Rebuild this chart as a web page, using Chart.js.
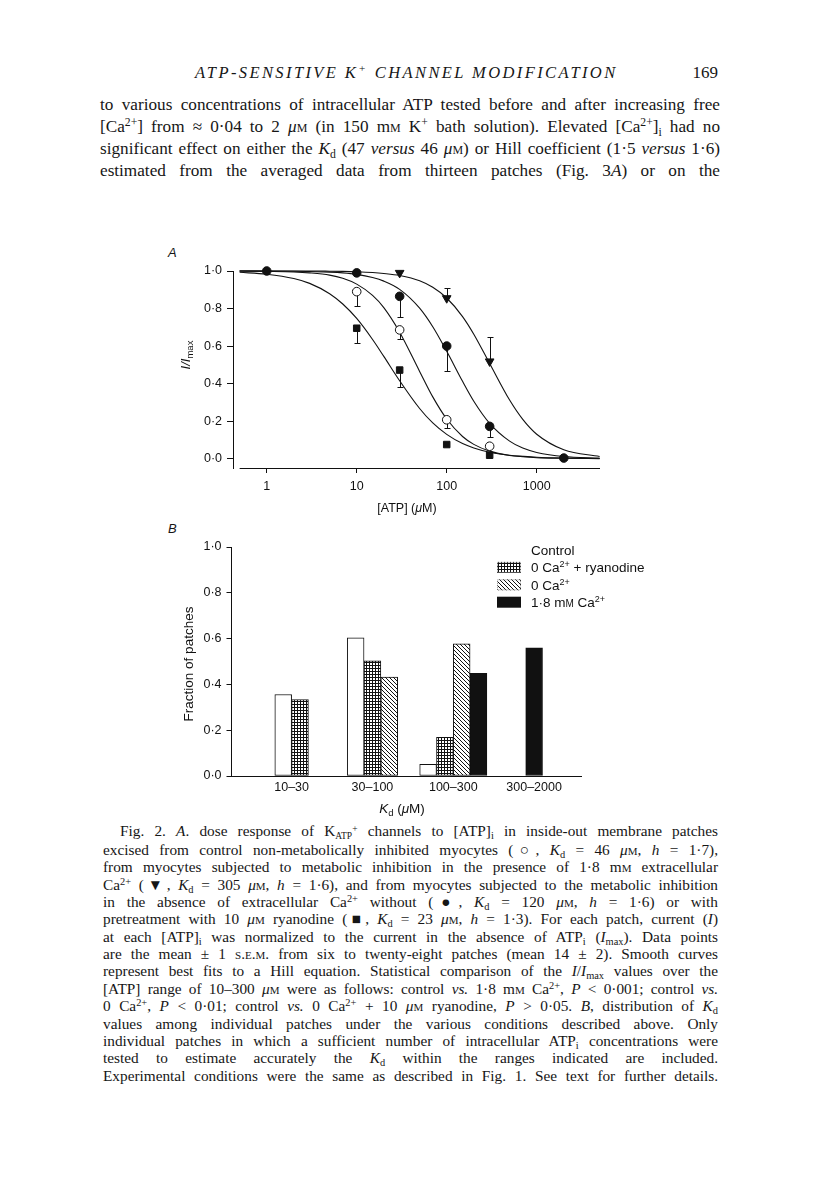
<!DOCTYPE html>
<html>
<head>
<meta charset="utf-8">
<script src="https://cdn.jsdelivr.net/npm/chart.js@4.4.0/dist/chart.umd.min.js"></script>
<style>
  html, body { margin: 0; padding: 0; background: #fff; }
  #page { position: relative; width: 816px; height: 1204px; overflow: hidden; color: #161616; }
  .serif { font-family: "Liberation Serif", "DejaVu Serif", serif; }
  .runhead { position: absolute; top: 63px; left: 195px; font-style: italic; font-size: 16.5px; letter-spacing: 2.4px; }
  .folio { position: absolute; top: 63px; left: 660px; width: 58px; text-align: right; font-size: 17px; }
  .body { position: absolute; top: 94px; left: 100px; width: 620px; font-size: 17.2px; line-height: 22px; }
  .caption { position: absolute; top: 822px; left: 103px; width: 615px; font-size: 15.3px; line-height: 17.36px; }
  .body div, .caption div { text-align: justify; text-align-last: justify; }
  .caption .first { text-indent: 17px; }
  sup { font-size: 0.68em; vertical-align: 0.5em; line-height: 0; }
  sub { font-size: 0.68em; vertical-align: -0.3em; line-height: 0; }
  .sc { font-variant: small-caps; }
  .stk { display: inline-block; font-size: 0.62em; line-height: 0.8em; vertical-align: -0.35em; text-align: left; text-align-last: left; }
  .panel { position: absolute; font-family: "Liberation Sans", Arial, sans-serif; font-style: italic; font-size: 13px; }
  canvas { position: absolute; }
</style>
</head>
<body>
<div id="page" class="serif">
  <div class="runhead">ATP-SENSITIVE K<sup>+</sup> CHANNEL MODIFICATION</div>
  <div class="folio">169</div>
  <div class="body">
    <div>to various concentrations of intracellular ATP tested before and after increasing free</div>
    <div>[Ca<sup>2+</sup>] from ≈ 0·04 to 2 <i>μ</i><span class="sc">m</span> (in 150 m<span class="sc">m</span> K<sup>+</sup> bath solution). Elevated [Ca<sup>2+</sup>]<sub>i</sub> had no</div>
    <div>significant effect on either the <i>K</i><sub>d</sub> (47 <i>versus</i> 46 <i>μ</i><span class="sc">m</span>) or Hill coefficient (1·5 <i>versus</i> 1·6)</div>
    <div>estimated from the averaged data from thirteen patches (Fig. 3<i>A</i>) or on the</div>
  </div>

  <div class="panel" style="left:168px; top:245px;">A</div>
  <div class="panel" style="left:168px; top:521px;">B</div>
  <canvas id="chartA" width="470" height="270" style="left:150px; top:255px;"></canvas>
  <canvas id="chartB" width="530" height="290" style="left:150px; top:530px;"></canvas>

  <div class="caption">
    <div class="first">Fig. 2. <i>A</i>. dose response of K<span class="stk">+<br>ATP</span> channels to [ATP]<sub>i</sub> in inside-out membrane patches</div>
    <div>excised from control non-metabolically inhibited myocytes (○, <i>K</i><sub>d</sub> = 46 <i>μ</i><span class="sc">m</span>, <i>h</i> = 1·7),</div>
    <div>from myocytes subjected to metabolic inhibition in the presence of 1·8 m<span class="sc">m</span> extracellular</div>
    <div>Ca<sup>2+</sup> (▼, <i>K</i><sub>d</sub> = 305 <i>μ</i><span class="sc">m</span>, <i>h</i> = 1·6), and from myocytes subjected to the metabolic inhibition</div>
    <div>in the absence of extracellular Ca<sup>2+</sup> without (●, <i>K</i><sub>d</sub> = 120 <i>μ</i><span class="sc">m</span>, <i>h</i> = 1·6) or with</div>
    <div>pretreatment with 10 <i>μ</i><span class="sc">m</span> ryanodine (■, <i>K</i><sub>d</sub> = 23 <i>μ</i><span class="sc">m</span>, <i>h</i> = 1·3). For each patch, current (<i>I</i>)</div>
    <div>at each [ATP]<sub>i</sub> was normalized to the current in the absence of ATP<sub>i</sub> (<i>I</i><sub>max</sub>). Data points</div>
    <div>are the mean ± 1 <span class="sc">s.e.m.</span> from six to twenty-eight patches (mean 14 ± 2). Smooth curves</div>
    <div>represent best fits to a Hill equation. Statistical comparison of the <i>I</i>/<i>I</i><sub>max</sub> values over the</div>
    <div>[ATP] range of 10–300 <i>μ</i><span class="sc">m</span> were as follows: control <i>vs.</i> 1·8 m<span class="sc">m</span> Ca<sup>2+</sup>, <i>P</i> &lt; 0·001; control <i>vs.</i></div>
    <div>0 Ca<sup>2+</sup>, <i>P</i> &lt; 0·01; control <i>vs.</i> 0 Ca<sup>2+</sup> + 10 <i>μ</i><span class="sc">m</span> ryanodine, <i>P</i> &gt; 0·05. <i>B</i>, distribution of <i>K</i><sub>d</sub></div>
    <div>values among individual patches under the various conditions described above. Only</div>
    <div>individual patches in which a sufficient number of intracellular ATP<sub>i</sub> concentrations were</div>
    <div>tested to estimate accurately the <i>K</i><sub>d</sub> within the ranges indicated are included.</div>
    <div>Experimental conditions were the same as described in Fig. 1. See text for further details.</div>
  </div>
</div>

<script>
// ---------- panel A : dose response ----------
const atpTicks = [1, 10, 100, 1000];
const ratioTicks = [0, 0.2, 0.4, 0.6, 0.8, 1.0];

// smooth fitted curves at these [ATP] values
const curveAtp = [0.5, 1, 2, 3, 5, 7, 10, 15, 20, 30, 50, 70, 100, 150, 200, 300, 500, 700, 1000, 2000, 5000];
const curveControl = [1.0, 0.998, 0.995, 0.99, 0.978, 0.961, 0.93, 0.87, 0.805, 0.674, 0.465, 0.329, 0.211, 0.118, 0.076, 0.04, 0.017, 0.01, 0.005, 0.002, 0.0];
const curveCa = [1.0, 1.0, 1.0, 1.0, 0.999, 0.998, 0.996, 0.992, 0.987, 0.976, 0.948, 0.913, 0.856, 0.757, 0.663, 0.507, 0.312, 0.209, 0.13, 0.047, 0.011];
const curveZeroCa = [1.0, 1.0, 0.999, 0.997, 0.994, 0.99, 0.982, 0.965, 0.946, 0.902, 0.802, 0.703, 0.572, 0.412, 0.306, 0.188, 0.093, 0.056, 0.033, 0.011, 0.003];
const curveRyan = [0.993, 0.983, 0.96, 0.934, 0.879, 0.824, 0.747, 0.635, 0.545, 0.415, 0.267, 0.19, 0.129, 0.08, 0.057, 0.034, 0.018, 0.012, 0.007, 0.003, 0.001];

// data points (mean and one-sided s.e.m.)
const ctrlAtp = [10, 30, 100, 300];
const ctrlMean = [0.89, 0.686, 0.207, 0.066];
const ctrlSem = [0.074, 0.046, 0.044, null];
const caAtp = [30, 100, 300];
const caMean = [0.99, 0.855, 0.518];
const caSem = [null, 0.053, 0.13];
const zeroAtp = [1, 10, 30, 100, 300, 2000];
const zeroMean = [1.0, 0.99, 0.865, 0.6, 0.172, 0.003];
const zeroSem = [null, null, 0.11, 0.132, 0.055, null];
const ryanAtp = [10, 30, 100, 300];
const ryanMean = [0.695, 0.472, 0.075, 0.018];
const ryanSem = [0.08, 0.092, null, null];

// ---------- panel B : Kd distribution ----------
const kdRanges = ['10–30', '30–100', '100–300', '300–2000'];
const fractionTicks = [0, 0.2, 0.4, 0.6, 0.8, 1.0];
const fracControl = [0.356, 0.603, 0.051, null];
const fracRyan = [0.334, 0.503, 0.169, null];
const fracZeroCa = [null, 0.432, 0.577, null];
const fracCa = [null, null, 0.448, 0.56];

const sans = '"Liberation Sans", Arial, sans-serif';
const ink = '#111';
const decimal = v => v.toFixed(1).replace('.', '·');
const pts = (xs, ys) => xs.map((x, i) => ({ x, y: ys[i] }));

// text in pieces: [text, font, dy]
function drawRich(ctx, parts, x, y) {
  let w = 0;
  parts.forEach(p => { ctx.font = p[1]; w += ctx.measureText(p[0]).width; });
  let cx = x - w / 2;
  ctx.textAlign = 'left';
  ctx.textBaseline = 'alphabetic';
  parts.forEach(p => {
    ctx.font = p[1];
    ctx.fillText(p[0], cx, y + (p[2] || 0));
    cx += ctx.measureText(p[0]).width;
  });
}

const errorBars = {
  id: 'errorBars',
  beforeDatasetsDraw(chart) {
    const { ctx, scales: { x, y } } = chart;
    ctx.save();
    ctx.strokeStyle = ink;
    ctx.lineWidth = 1;
    chart.data.datasets.forEach(ds => {
      if (!ds.sem) return;
      ds.data.forEach((p, i) => {
        const s = ds.sem[i];
        if (s == null) return;
        const px = Math.round(x.getPixelForValue(p.x)) + 0.5;
        const y0 = y.getPixelForValue(p.y);
        const y1 = Math.round(y.getPixelForValue(p.y + ds.errDir * s)) + 0.5;
        ctx.beginPath();
        ctx.moveTo(px, y0);
        ctx.lineTo(px, y1);
        ctx.moveTo(px - 3, y1);
        ctx.lineTo(px + 3, y1);
        ctx.stroke();
      });
    });
    ctx.restore();
  }
};

const axisA = {
  id: 'axisA',
  afterDraw(chart) {
    const { ctx, chartArea, scales: { x } } = chart;
    ctx.save();
    ctx.strokeStyle = ink;
    ctx.lineWidth = 1;
    ctx.beginPath();
    ctx.moveTo(x.getPixelForValue(0.5), chartArea.bottom + 0.5);
    ctx.lineTo(chartArea.right, chartArea.bottom + 0.5);
    ctx.stroke();
    ctx.fillStyle = ink;
    drawRich(ctx, [['[ATP] (', '12.5px ' + sans], ['μ', 'italic 12.5px ' + sans], ['M)', '12.5px ' + sans]], 257, 257);
    ctx.translate(35, 100);
    ctx.rotate(-Math.PI / 2);
    drawRich(ctx, [['I/I', 'italic 13px ' + sans], ['max', '9.5px ' + sans, 3]], 0, 4.5);
    ctx.restore();
  }
};

const blackPoint = { borderColor: ink, backgroundColor: ink, borderWidth: 1, showLine: false, clip: false };
const curve = data => ({ data, showLine: true, pointRadius: 0, borderColor: ink, borderWidth: 1.1,
  cubicInterpolationMode: 'monotone', clip: false });

new Chart(document.getElementById('chartA'), {
  type: 'scatter',
  data: {
    datasets: [
      { ...blackPoint, data: pts(zeroAtp, zeroMean), sem: zeroSem, errDir: -1, pointStyle: 'circle', pointRadius: 4.3 },
      { ...blackPoint, data: pts(ctrlAtp, ctrlMean), sem: ctrlSem, errDir: -1, pointStyle: 'circle', pointRadius: 4.3, backgroundColor: '#fff' },
      { ...blackPoint, data: pts(caAtp, caMean), sem: caSem, errDir: 1, pointStyle: 'triangle', rotation: 180, pointRadius: 5 },
      { ...blackPoint, data: pts(ryanAtp, ryanMean), sem: ryanSem, errDir: -1, pointStyle: 'rect', pointRadius: 4.6 },
      curve(pts(curveAtp, curveControl)),
      curve(pts(curveAtp, curveCa)),
      curve(pts(curveAtp, curveZeroCa)),
      curve(pts(curveAtp, curveRyan))
    ]
  },
  options: {
    responsive: false,
    animation: false,
    layout: { padding: { top: 16, right: 20, left: 0, bottom: 0 } },
    plugins: { legend: { display: false }, tooltip: { enabled: false } },
    scales: {
      x: {
        type: 'logarithmic', min: 0.422, max: 5050,
        afterFit: s => { s.height = 57; },
        afterBuildTicks: s => { s.ticks = atpTicks.map(v => ({ value: v })); },
        border: { display: false },
        grid: { drawOnChartArea: false, tickLength: 5, color: ink },
        ticks: { color: ink, font: { family: sans, size: 12.5 }, padding: 6, maxRotation: 0, autoSkip: false, callback: v => String(v) }
      },
      y: {
        min: -0.05, max: 1.0,
        afterFit: s => { s.width = 83; },
        afterBuildTicks: s => { s.ticks = ratioTicks.map(v => ({ value: v })); },
        border: { display: true, color: ink, width: 1 },
        grid: { drawOnChartArea: false, tickLength: 6, color: ink },
        ticks: { color: ink, font: { family: sans, size: 12.5 }, padding: 5, callback: v => decimal(v) }
      }
    }
  },
  plugins: [errorBars, axisA]
});

// ---------- bar fills ----------
const gridTile = document.createElement('canvas');
gridTile.width = gridTile.height = 3;
let g = gridTile.getContext('2d');
g.fillStyle = '#fff'; g.fillRect(0, 0, 3, 3);
g.fillStyle = ink; g.fillRect(0, 0, 3, 1); g.fillRect(0, 0, 1, 3);

const hatchTile = document.createElement('canvas');
hatchTile.width = hatchTile.height = 4;
g = hatchTile.getContext('2d');
g.fillStyle = '#fff'; g.fillRect(0, 0, 4, 4);
g.fillStyle = ink;
for (let i = 0; i < 4; i++) g.fillRect(i, i, 1, 1);

const ctxB = document.getElementById('chartB').getContext('2d');
const gridFill = ctxB.createPattern(gridTile, 'repeat');
const hatchFill = ctxB.createPattern(hatchTile, 'repeat');

const legendB = {
  id: 'legendB',
  afterDraw(chart) {
    const { ctx } = chart;
    const f = '13.5px ' + sans, sup = '9px ' + sans;
    const rows = [
      [['Control', f]],
      [['0 Ca', f], ['2+', sup, -5], [' + ryanodine', f]],
      [['0 Ca', f], ['2+', sup, -5]],
      [['1·8 m', f], ['M', '10px ' + sans], [' Ca', f], ['2+', sup, -5]]
    ];
    ctx.save();
    chart.data.datasets.forEach((ds, i) => {
      const yc = 20 + i * 17.4;
      if (i > 0) {
        ctx.fillStyle = ds.backgroundColor;
        ctx.fillRect(347, yc - 5.5, 24, 11);
        if (i < 3) {
          ctx.strokeStyle = '#888';
          ctx.setLineDash([1, 1]);
          ctx.strokeRect(347.5, yc - 5, 23, 10);
          ctx.setLineDash([]);
        }
      }
      ctx.fillStyle = ink;
      let w = 0;
      rows[i].forEach(p => { ctx.font = p[1]; w += ctx.measureText(p[0]).width; });
      drawRich(ctx, rows[i], 381 + w / 2, yc + 5);
    });
    drawRich(ctx, [['K', 'italic 13.5px ' + sans], ['d', '9.5px ' + sans, 3], [' (', '13.5px ' + sans],
      ['μ', 'italic 13.5px ' + sans], ['M)', '13.5px ' + sans]], 252, 283);
    ctx.translate(38, 134);
    ctx.rotate(-Math.PI / 2);
    drawRich(ctx, [['Fraction of patches', '13.5px ' + sans]], 0, 5);
    ctx.restore();
  }
};

new Chart(ctxB, {
  type: 'bar',
  data: {
    labels: kdRanges.map((_, i) => i + 1),
    datasets: [
      { label: 'Control', data: fracControl, backgroundColor: '#fff' },
      { label: '0 Ca2+ + ryanodine', data: fracRyan, backgroundColor: gridFill },
      { label: '0 Ca2+', data: fracZeroCa, backgroundColor: hatchFill },
      { label: '1·8 mM Ca2+', data: fracCa, backgroundColor: ink }
    ]
  },
  options: {
    responsive: false,
    animation: false,
    layout: { padding: { top: 17, right: 99, left: 0, bottom: 0 } },
    datasets: { bar: { barThickness: 16.8, skipNull: true, borderColor: ink, borderWidth: 1, borderSkipped: false } },
    plugins: { legend: { display: false }, tooltip: { enabled: false } },
    scales: {
      x: {
        type: 'linear', min: 0.25, max: 4.58, offset: false,
        afterFit: s => { s.height = 44; },
        afterBuildTicks: s => { s.ticks = kdRanges.map((_, i) => ({ value: i + 1 })); },
        border: { display: true, color: ink, width: 1 },
        grid: { display: false, drawTicks: false },
        ticks: { color: ink, font: { family: sans, size: 12.5 }, padding: 4, maxRotation: 0, autoSkip: false, callback: v => kdRanges[v - 1] }
      },
      y: {
        min: 0, max: 1,
        afterFit: s => { s.width = 81; },
        afterBuildTicks: s => { s.ticks = fractionTicks.map(v => ({ value: v })); },
        border: { display: true, color: ink, width: 1 },
        grid: { drawOnChartArea: false, tickLength: 4.5, color: ink },
        ticks: { color: ink, font: { family: sans, size: 12.5 }, padding: 5, callback: v => decimal(v) }
      }
    }
  },
  plugins: [legendB]
});
</script>
</body>
</html>
